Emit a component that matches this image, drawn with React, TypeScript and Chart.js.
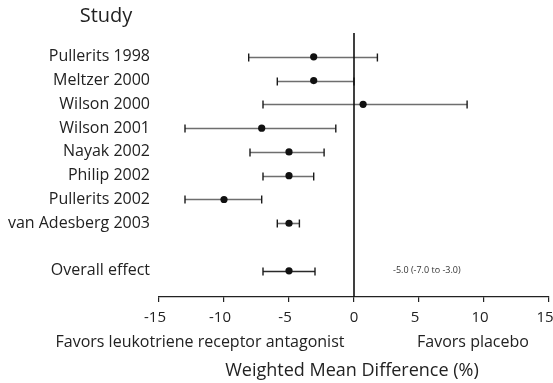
import React, { useEffect, useRef } from "react";
import { Chart, registerables } from "chart.js";

Chart.register(...registerables);

// Forest plot: weighted mean difference (%) per study with 95% CI
const studies = [
  "Pullerits 1998",
  "Meltzer 2000",
  "Wilson 2000",
  "Wilson 2001",
  "Nayak 2002",
  "Philip 2002",
  "Pullerits 2002",
  "van Adesberg 2003",
];
const meanDiff = [-3.1, -3.1, 0.7, -7.1, -5.0, -5.0, -10.0, -5.0];
const ciLower = [-8.1, -5.9, -7.0, -13.0, -8.0, -7.0, -13.0, -5.9];
const ciUpper = [1.8, 0.0, 8.7, -1.4, -2.3, -3.1, -7.1, -4.2];

const overallLabel = "Overall effect";
const overallMean = -5.0;
const overallLower = -7.0;
const overallUpper = -3.0;
const overallText = "-5.0 (-7.0 to -3.0)";

const xTicks = [-15, -10, -5, 0, 5, 10, 15];

const FONT = "'Open Sans', 'Noto Sans', sans-serif";
const TEXT = "#222";

// row positions: studies on 0..7, a blank row, then the pooled estimate
const overallRow = studies.length + 1;

const forestPlugin = {
  id: "forestDecor",
  beforeDatasetsDraw(chart: any) {
    const { ctx, scales } = chart;
    const xs = scales.x;
    const ys = scales.y;
    const rows = studies.map((_, i) => i).concat([overallRow]);
    const lo = ciLower.concat([overallLower]);
    const hi = ciUpper.concat([overallUpper]);
    ctx.save();
    rows.forEach((r, i) => {
      const y = Math.round(ys.getPixelForValue(r)) + 0.5;
      const x1 = xs.getPixelForValue(lo[i]);
      const x2 = xs.getPixelForValue(hi[i]);
      ctx.strokeStyle = i === rows.length - 1 ? "#2a2a2a" : "#6e6e6e";
      ctx.lineWidth = 1.6;
      ctx.beginPath();
      ctx.moveTo(x1, y);
      ctx.lineTo(x2, y);
      ctx.stroke();
      ctx.strokeStyle = "#1a1a1a";
      ctx.lineWidth = 1.4;
      [x1, x2].forEach((x) => {
        ctx.beginPath();
        ctx.moveTo(x, y - 4);
        ctx.lineTo(x, y + 4);
        ctx.stroke();
      });
    });
    ctx.restore();
  },
  afterDraw(chart: any) {
    const { ctx, scales, chartArea } = chart;
    const xs = scales.x;
    const ys = scales.y;
    ctx.save();
    ctx.fillStyle = TEXT;
    ctx.textBaseline = "middle";

    // study labels
    ctx.font = `16px ${FONT}`;
    ctx.textAlign = "right";
    const labelX = chartArea.left - 9;
    studies.forEach((s, i) => {
      ctx.fillText(s, labelX, ys.getPixelForValue(i));
    });
    ctx.fillText(overallLabel, labelX, ys.getPixelForValue(overallRow));

    // x tick labels
    ctx.font = `15px ${FONT}`;
    ctx.textAlign = "center";
    xTicks.forEach((v) => {
      const shift = v === 0 ? 0 : -4;
      ctx.fillText(String(v), xs.getPixelForValue(v) + shift, 318);
    });

    // column heading
    ctx.font = `20px ${FONT}`;
    ctx.fillText("Study", 106, 16);

    // pooled estimate annotation
    ctx.font = `9px ${FONT}`;
    ctx.textAlign = "left";
    ctx.fillStyle = "#333";
    ctx.fillText(overallText, xs.getPixelForValue(3), ys.getPixelForValue(overallRow));

    // direction captions and axis title
    ctx.fillStyle = TEXT;
    ctx.font = `16px ${FONT}`;
    ctx.textAlign = "center";
    ctx.fillText("Favors leukotriene receptor antagonist", 200, 342);
    ctx.fillText("Favors placebo", 473, 342);
    ctx.font = `18px ${FONT}`;
    ctx.fillText("Weighted Mean Difference (%)", 352, 371);
    ctx.restore();
  },
};

export default function App() {
  const ref = useRef<HTMLCanvasElement>(null);

  useEffect(() => {
    if (!ref.current) return;
    const points = meanDiff
      .map((m, i) => ({ x: m, y: i }))
      .concat([{ x: overallMean, y: overallRow }]);
    const chart = new Chart(ref.current, {
      type: "scatter",
      data: {
        datasets: [
          {
            type: "line",
            data: [
              { x: 0, y: -1 },
              { x: 0, y: 10.1 },
            ],
            borderColor: "#111",
            borderWidth: 1.6,
            pointRadius: 0,
          },
          {
            data: points,
            pointRadius: 3.6,
            pointBackgroundColor: "#111",
            pointBorderColor: "#111",
            pointBorderWidth: 0,
          },
        ],
      },
      options: {
        animation: false,
        responsive: false,
        layout: { padding: { top: 33, left: 159, right: 4, bottom: 81 } },
        plugins: {
          legend: { display: false },
          tooltip: { enabled: false },
        },
        scales: {
          x: {
            type: "linear",
            min: -15,
            max: 15,
            afterBuildTicks: (scale: any) => {
              scale.ticks = xTicks.map((v) => ({ value: v }));
            },
            grid: {
              display: true,
              drawOnChartArea: false,
              drawTicks: true,
              tickLength: 5,
              color: "#222",
              lineWidth: 1.2,
            },
            border: { display: true, color: "#222", width: 1.2 },
            ticks: { display: false },
          },
          y: {
            type: "linear",
            reverse: true,
            min: -1,
            max: 10.1,
            display: false,
          },
        },
      },
      plugins: [forestPlugin],
    });
    return () => chart.destroy();
  }, []);

  return (
    <div style={{ position: "fixed", left: 0, top: 0, width: 553, height: 383, background: "#fff" }}>
      <canvas ref={ref} width={553} height={383} />
    </div>
  );
}
